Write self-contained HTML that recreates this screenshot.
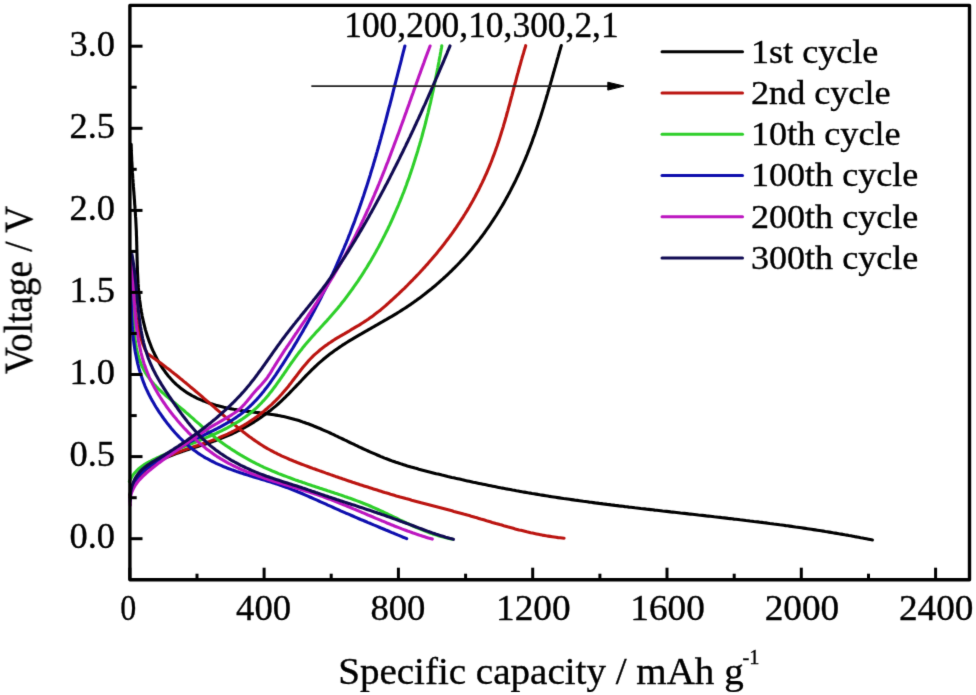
<!DOCTYPE html>
<html><head><meta charset="utf-8"><style>
html,body{margin:0;padding:0;background:#fff;}
svg{display:block;} text{font-variant-ligatures:none;}
</style></head><body>
<svg width="976" height="695" viewBox="0 0 976 695">
<defs><filter id="b" filterUnits="userSpaceOnUse" x="0" y="0" width="976" height="695" color-interpolation-filters="sRGB"><feConvolveMatrix order="3" kernelMatrix="0.01134 0.08382 0.01134 0.08382 0.61935 0.08382 0.01134 0.08382 0.01134" divisor="1" edgeMode="duplicate"/></filter></defs>
<rect width="976" height="695" fill="#fff"/>
<g filter="url(#b)">
<polyline points="131.2,144.4 131.2,146.4 131.3,148.4 131.3,150.4 131.4,152.4 131.5,154.4 131.6,156.4 131.7,158.4 131.7,160.4 131.9,162.4 132.0,164.4 132.1,166.4 132.2,168.4 132.3,170.4 132.4,172.4 132.6,174.4 132.7,176.4 132.8,178.4 133.0,180.4 133.1,182.4 133.3,184.4 133.4,186.4 133.6,188.3 133.7,190.3 133.9,192.3 134.0,194.3 134.2,196.3 134.3,198.3 134.5,200.3 134.6,202.3 134.7,204.3 134.9,206.2 135.0,208.2 135.2,210.2 135.3,212.2 135.4,214.2 135.5,216.2 135.7,218.2 135.8,220.2 135.9,222.1 136.0,224.1 136.1,226.1 136.2,228.1 136.3,230.1 136.4,232.1 136.4,234.1 136.5,236.1 136.6,238.1 136.6,240.1 136.7,242.1 136.7,244.0 136.8,246.0 136.8,248.0 136.9,250.0 136.9,252.0 137.0,254.0 137.0,256.0 137.1,258.0 137.1,260.0 137.2,262.0 137.2,264.0 137.3,266.0 137.4,268.0 137.4,270.0 137.5,272.0 137.6,273.9 137.7,275.9 137.8,277.9 137.9,279.9 138.0,281.9 138.1,283.9 138.3,285.9 138.4,287.9 138.6,289.9 138.8,291.9 139.0,293.9 139.2,295.9 139.4,297.9 139.6,299.9 139.9,301.8 140.2,303.8 140.4,305.8 140.7,307.8 141.1,309.8 141.4,311.8 141.8,313.8 142.1,315.8 142.5,317.7 143.0,319.7 143.4,321.7 143.9,323.7 144.4,325.7 144.9,327.6 145.4,329.6 146.0,331.6 146.6,333.5 147.2,335.5 147.8,337.4 148.5,339.3 149.1,341.2 149.9,343.1 150.6,345.0 151.3,346.9 152.1,348.8 152.9,350.6 153.8,352.4 154.6,354.2 155.5,356.0 156.4,357.8 157.3,359.6 158.3,361.3 159.3,363.0 160.3,364.7 161.4,366.4 162.4,368.0 163.6,369.6 164.7,371.2 165.8,372.8 167.0,374.3 168.3,375.9 169.5,377.3 170.8,378.8 172.1,380.2 173.4,381.6 174.8,383.0 176.2,384.3 177.7,385.6 179.1,386.8 180.6,388.1 182.2,389.2 183.7,390.4 185.3,391.5 186.9,392.6 188.6,393.6 190.3,394.6 192.0,395.6 193.7,396.5 195.5,397.4 197.2,398.3 199.0,399.1 200.9,399.9 202.7,400.7 204.6,401.4 206.4,402.1 208.3,402.8 210.2,403.5 212.2,404.1 214.1,404.7 216.0,405.3 218.0,405.8 220.0,406.3 221.9,406.8 223.9,407.3 225.9,407.7 227.9,408.2 229.9,408.6 231.9,408.9 233.9,409.3 235.9,409.6 237.9,410.0 240.0,410.3 242.0,410.6 244.0,410.8 246.0,411.1 248.0,411.4 250.0,411.6 252.0,411.9 254.0,412.1 256.0,412.4 258.0,412.6 260.0,412.9 262.0,413.1 264.0,413.4 266.0,413.6 268.0,413.9 270.0,414.2 271.9,414.5 273.9,414.8 275.9,415.1 277.8,415.4 279.8,415.8 281.7,416.2 283.6,416.6 285.6,417.0 287.5,417.4 289.4,417.9 291.3,418.4 293.2,418.9 295.1,419.5 297.0,420.0 298.9,420.6 300.7,421.2 302.6,421.9 304.5,422.5 306.3,423.2 308.2,423.8 310.0,424.5 311.9,425.2 313.7,426.0 315.5,426.7 317.4,427.5 319.2,428.2 321.0,429.0 322.8,429.8 324.6,430.6 326.5,431.4 328.3,432.2 330.1,433.0 331.9,433.9 333.7,434.7 335.5,435.6 337.3,436.4 339.1,437.3 340.9,438.1 342.7,439.0 344.5,439.9 346.3,440.7 348.1,441.6 349.9,442.5 351.7,443.3 353.6,444.2 355.4,445.1 357.2,445.9 359.0,446.8 360.8,447.6 362.6,448.5 364.4,449.3 366.3,450.2 368.1,451.0 369.9,451.8 371.7,452.6 373.6,453.4 375.4,454.2 377.2,455.0 379.1,455.8 380.9,456.6 382.8,457.3 384.6,458.1 386.5,458.8 388.4,459.5 390.2,460.2 392.1,460.9 394.0,461.5 395.9,462.2 397.8,462.8 399.7,463.4 401.6,464.1 403.5,464.7 405.4,465.3 407.3,465.9 409.2,466.4 411.1,467.0 413.0,467.5 414.9,468.1 416.9,468.6 418.8,469.2 420.7,469.7 422.6,470.2 424.6,470.7 426.5,471.2 428.4,471.7 430.4,472.2 432.3,472.7 434.2,473.2 436.2,473.7 438.1,474.1 440.1,474.6 442.0,475.1 444.0,475.5 445.9,476.0 447.8,476.5 449.8,476.9 451.7,477.4 453.7,477.8 455.6,478.3 457.6,478.7 459.5,479.1 461.5,479.6 463.4,480.0 465.4,480.5 467.3,480.9 469.3,481.3 471.2,481.7 473.2,482.2 475.1,482.6 477.1,483.0 479.0,483.4 481.0,483.8 482.9,484.2 484.9,484.6 486.9,485.0 488.8,485.4 490.8,485.8 492.7,486.2 494.7,486.6 496.7,487.0 498.6,487.4 500.6,487.8 502.5,488.1 504.5,488.5 506.5,488.9 508.4,489.2 510.4,489.6 512.4,490.0 514.3,490.3 516.3,490.7 518.2,491.0 520.2,491.4 522.2,491.8 524.1,492.1 526.1,492.4 528.1,492.8 530.1,493.1 532.0,493.5 534.0,493.8 536.0,494.1 537.9,494.4 539.9,494.8 541.9,495.1 543.8,495.4 545.8,495.7 547.8,496.0 549.8,496.4 551.7,496.7 553.7,497.0 555.7,497.3 557.7,497.6 559.6,497.9 561.6,498.2 563.6,498.5 565.6,498.7 567.5,499.0 569.5,499.3 571.5,499.6 573.5,499.9 575.4,500.2 577.4,500.4 579.4,500.7 581.4,501.0 583.3,501.3 585.3,501.5 587.3,501.8 589.3,502.1 591.3,502.3 593.2,502.6 595.2,502.9 597.2,503.1 599.2,503.4 601.2,503.6 603.1,503.9 605.1,504.1 607.1,504.4 609.1,504.6 611.1,504.9 613.0,505.1 615.0,505.4 617.0,505.6 619.0,505.9 621.0,506.1 623.0,506.3 624.9,506.6 626.9,506.8 628.9,507.1 630.9,507.3 632.9,507.5 634.9,507.8 636.8,508.0 638.8,508.2 640.8,508.5 642.8,508.7 644.8,508.9 646.8,509.2 648.8,509.4 650.7,509.6 652.7,509.8 654.7,510.1 656.7,510.3 658.7,510.5 660.7,510.7 662.6,511.0 664.6,511.2 666.6,511.4 668.6,511.6 670.6,511.9 672.6,512.1 674.6,512.3 676.5,512.5 678.5,512.7 680.5,513.0 682.5,513.2 684.5,513.4 686.5,513.6 688.5,513.9 690.5,514.1 692.4,514.3 694.4,514.5 696.4,514.7 698.4,515.0 700.4,515.2 702.4,515.4 704.4,515.6 706.3,515.9 708.3,516.1 710.3,516.3 712.3,516.5 714.3,516.8 716.3,517.0 718.2,517.2 720.2,517.4 722.2,517.7 724.2,517.9 726.2,518.1 728.2,518.4 730.2,518.6 732.1,518.8 734.1,519.1 736.1,519.3 738.1,519.5 740.1,519.8 742.1,520.0 744.0,520.2 746.0,520.5 748.0,520.7 750.0,521.0 752.0,521.2 754.0,521.5 755.9,521.7 757.9,521.9 759.9,522.2 761.9,522.4 763.9,522.7 765.9,522.9 767.8,523.2 769.8,523.5 771.8,523.7 773.8,524.0 775.8,524.2 777.7,524.5 779.7,524.8 781.7,525.0 783.7,525.3 785.7,525.6 787.6,525.8 789.6,526.1 791.6,526.4 793.6,526.7 795.6,527.0 797.5,527.2 799.5,527.5 801.5,527.8 803.5,528.1 805.4,528.4 807.4,528.7 809.4,529.0 811.4,529.3 813.3,529.6 815.3,529.9 817.3,530.2 819.3,530.5 821.2,530.8 823.2,531.1 825.2,531.5 827.2,531.8 829.1,532.1 831.1,532.4 833.1,532.8 835.0,533.1 837.0,533.4 839.0,533.8 841.0,534.1 842.9,534.4 844.9,534.8 846.9,535.1 848.8,535.5 850.8,535.8 852.8,536.2 854.7,536.6 856.7,536.9 858.7,537.3 860.6,537.7 862.6,538.0 864.6,538.4 866.5,538.8 868.5,539.2 870.4,539.6 872.4,540.0" fill="none" stroke="#000000" stroke-width="3.1" stroke-linejoin="round" stroke-linecap="round"/>
<polyline points="129.8,494.9 130.3,492.9 130.8,490.8 131.4,488.9 132.2,487.0 133.0,485.2 133.8,483.4 134.8,481.7 135.9,480.1 137.0,478.5 138.2,477.0 139.4,475.5 140.7,474.1 142.1,472.7 143.5,471.4 145.0,470.1 146.5,468.9 148.1,467.7 149.7,466.6 151.4,465.5 153.1,464.4 154.8,463.4 156.5,462.4 158.3,461.4 160.1,460.5 161.9,459.6 163.8,458.8 165.6,457.9 167.5,457.1 169.3,456.3 171.2,455.6 173.1,454.8 175.0,454.1 176.8,453.4 178.7,452.7 180.6,452.0 182.5,451.4 184.5,450.7 186.4,450.1 188.3,449.5 190.2,448.8 192.1,448.2 194.0,447.6 195.9,447.0 197.9,446.4 199.8,445.8 201.7,445.2 203.6,444.5 205.5,443.9 207.4,443.3 209.3,442.7 211.2,442.0 213.1,441.4 215.0,440.7 216.8,440.0 218.7,439.3 220.6,438.6 222.4,437.9 224.3,437.1 226.1,436.4 227.9,435.6 229.8,434.8 231.6,434.0 233.4,433.1 235.2,432.3 237.0,431.4 238.7,430.5 240.5,429.6 242.3,428.7 244.0,427.8 245.7,426.8 247.5,425.8 249.2,424.8 250.9,423.8 252.6,422.8 254.3,421.8 255.9,420.7 257.6,419.6 259.3,418.5 260.9,417.4 262.5,416.3 264.1,415.1 265.7,414.0 267.3,412.8 268.9,411.6 270.5,410.4 272.0,409.1 273.5,407.9 275.1,406.6 276.6,405.3 278.1,404.0 279.6,402.6 281.0,401.3 282.5,399.9 283.9,398.5 285.4,397.1 286.8,395.7 288.2,394.3 289.6,392.9 291.0,391.4 292.4,390.0 293.8,388.5 295.2,387.1 296.6,385.6 298.0,384.2 299.4,382.7 300.8,381.3 302.2,379.8 303.5,378.3 304.9,376.9 306.3,375.4 307.7,374.0 309.1,372.6 310.6,371.1 312.0,369.7 313.4,368.3 314.8,367.0 316.3,365.6 317.8,364.2 319.2,362.9 320.7,361.6 322.2,360.3 323.7,359.0 325.3,357.7 326.8,356.5 328.4,355.2 329.9,354.0 331.5,352.9 333.1,351.7 334.7,350.5 336.4,349.4 338.0,348.2 339.6,347.1 341.3,346.0 342.9,344.9 344.6,343.9 346.3,342.8 348.0,341.7 349.7,340.7 351.4,339.7 353.1,338.6 354.8,337.6 356.5,336.6 358.2,335.6 359.9,334.6 361.7,333.6 363.4,332.6 365.1,331.6 366.9,330.6 368.6,329.6 370.4,328.6 372.1,327.6 373.9,326.7 375.6,325.7 377.4,324.7 379.1,323.7 380.8,322.7 382.6,321.7 384.3,320.7 386.1,319.7 387.8,318.7 389.5,317.7 391.3,316.7 393.0,315.6 394.7,314.6 396.4,313.6 398.1,312.5 399.8,311.5 401.5,310.4 403.2,309.3 404.9,308.2 406.6,307.1 408.2,306.0 409.9,304.9 411.5,303.7 413.2,302.6 414.8,301.4 416.5,300.3 418.1,299.1 419.7,297.9 421.3,296.7 422.9,295.5 424.5,294.3 426.1,293.0 427.6,291.8 429.2,290.5 430.8,289.3 432.3,288.0 433.9,286.7 435.4,285.5 436.9,284.2 438.4,282.8 439.9,281.5 441.4,280.2 442.9,278.9 444.4,277.5 445.9,276.2 447.3,274.8 448.8,273.4 450.2,272.0 451.7,270.6 453.1,269.2 454.5,267.8 455.9,266.4 457.3,265.0 458.7,263.5 460.1,262.1 461.4,260.6 462.8,259.2 464.1,257.7 465.5,256.2 466.8,254.7 468.1,253.2 469.4,251.7 470.7,250.2 472.0,248.7 473.3,247.1 474.5,245.6 475.8,244.1 477.0,242.5 478.3,240.9 479.5,239.4 480.7,237.8 481.9,236.2 483.1,234.6 484.3,233.0 485.4,231.4 486.6,229.7 487.7,228.1 488.9,226.5 490.0,224.8 491.1,223.2 492.2,221.5 493.3,219.9 494.4,218.2 495.5,216.5 496.6,214.8 497.6,213.1 498.7,211.4 499.7,209.7 500.7,208.0 501.8,206.3 502.8,204.6 503.8,202.9 504.8,201.1 505.7,199.4 506.7,197.6 507.7,195.9 508.6,194.1 509.6,192.4 510.5,190.6 511.4,188.8 512.3,187.1 513.2,185.3 514.1,183.5 515.0,181.7 515.9,179.9 516.7,178.1 517.6,176.3 518.4,174.5 519.3,172.7 520.1,170.8 520.9,169.0 521.7,167.2 522.5,165.4 523.3,163.5 524.1,161.7 524.9,159.8 525.7,158.0 526.4,156.1 527.2,154.3 527.9,152.4 528.6,150.6 529.4,148.7 530.1,146.8 530.8,145.0 531.5,143.1 532.2,141.2 532.8,139.3 533.5,137.4 534.2,135.6 534.9,133.7 535.5,131.8 536.2,129.9 536.8,128.0 537.5,126.1 538.1,124.2 538.7,122.3 539.3,120.4 540.0,118.5 540.6,116.6 541.2,114.7 541.8,112.8 542.4,110.9 543.0,108.9 543.6,107.0 544.1,105.1 544.7,103.2 545.3,101.3 545.9,99.4 546.4,97.5 547.0,95.5 547.6,93.6 548.1,91.7 548.7,89.8 549.3,87.8 549.8,85.9 550.4,84.0 550.9,82.1 551.5,80.2 552.0,78.2 552.6,76.3 553.1,74.4 553.6,72.5 554.2,70.5 554.7,68.6 555.3,66.7 555.8,64.8 556.4,62.9 556.9,60.9 557.4,59.0 558.0,57.1 558.5,55.2 559.1,53.3 559.6,51.4 560.2,49.4 560.7,47.5 561.3,45.6" fill="none" stroke="#000000" stroke-width="3.1" stroke-linejoin="round" stroke-linecap="round"/>
<polyline points="130.9,262.0 131.1,263.9 131.3,265.8 131.5,267.7 131.7,269.7 131.9,271.6 132.1,273.5 132.2,275.5 132.4,277.4 132.6,279.4 132.7,281.4 132.9,283.3 133.0,285.3 133.2,287.3 133.3,289.2 133.5,291.2 133.6,293.2 133.8,295.2 133.9,297.2 134.1,299.2 134.3,301.2 134.5,303.1 134.7,305.1 134.9,307.1 135.1,309.1 135.4,311.0 135.6,313.0 135.9,315.0 136.2,316.9 136.5,318.9 136.8,320.8 137.2,322.8 137.5,324.7 137.9,326.6 138.3,328.5 138.8,330.4 139.2,332.3 139.7,334.2 140.2,336.0 140.8,337.9 141.4,339.7 142.0,341.6 142.7,343.4 143.3,345.2 144.1,346.9 144.8,348.7 145.7,350.4 146.5,352.1 147.4,353.8 149.3,354.9 150.9,356.1 152.5,357.2 154.2,358.4 155.8,359.6 157.4,360.7 159.0,361.9 160.6,363.1 162.2,364.3 163.8,365.5 165.4,366.7 166.9,367.9 168.5,369.1 170.1,370.3 171.7,371.6 173.2,372.8 174.8,374.1 176.4,375.3 177.9,376.5 179.5,377.8 181.0,379.1 182.6,380.3 184.1,381.6 185.6,382.8 187.2,384.1 188.7,385.4 190.2,386.7 191.8,388.0 193.3,389.2 194.8,390.5 196.3,391.8 197.9,393.1 199.4,394.4 200.9,395.7 202.4,397.0 203.9,398.3 205.4,399.6 206.9,400.9 208.4,402.2 209.9,403.5 211.5,404.8 213.0,406.1 214.5,407.4 216.0,408.8 217.5,410.1 219.0,411.4 220.5,412.7 222.0,414.0 223.5,415.3 225.0,416.6 226.5,417.9 228.0,419.2 229.5,420.5 231.0,421.8 232.5,423.1 234.0,424.3 235.6,425.6 237.1,426.9 238.6,428.1 240.1,429.4 241.7,430.6 243.2,431.9 244.8,433.1 246.3,434.3 247.9,435.5 249.5,436.7 251.1,437.8 252.7,439.0 254.3,440.1 255.9,441.2 257.5,442.3 259.1,443.4 260.8,444.5 262.4,445.5 264.1,446.6 265.8,447.6 267.5,448.6 269.2,449.5 270.9,450.5 272.7,451.4 274.4,452.3 276.2,453.2 277.9,454.1 279.7,454.9 281.5,455.8 283.3,456.6 285.1,457.4 286.9,458.2 288.7,459.0 290.5,459.8 292.4,460.5 294.2,461.3 296.1,462.0 297.9,462.8 299.8,463.5 301.6,464.2 303.5,464.9 305.4,465.6 307.2,466.3 309.1,467.0 311.0,467.7 312.9,468.4 314.8,469.0 316.6,469.7 318.5,470.4 320.4,471.1 322.3,471.7 324.2,472.4 326.1,473.1 327.9,473.7 329.8,474.4 331.7,475.1 333.6,475.7 335.5,476.4 337.4,477.0 339.3,477.7 341.1,478.3 343.0,479.0 344.9,479.6 346.8,480.3 348.7,480.9 350.6,481.5 352.5,482.2 354.4,482.8 356.3,483.4 358.2,484.0 360.1,484.7 362.0,485.3 363.9,485.9 365.8,486.5 367.7,487.1 369.6,487.7 371.5,488.3 373.4,488.9 375.3,489.5 377.2,490.1 379.1,490.7 381.0,491.3 382.9,491.9 384.8,492.5 386.7,493.0 388.6,493.6 390.5,494.2 392.4,494.7 394.3,495.3 396.2,495.9 398.2,496.4 400.1,497.0 402.0,497.5 403.9,498.0 405.8,498.6 407.7,499.1 409.7,499.6 411.6,500.2 413.5,500.7 415.4,501.2 417.3,501.7 419.3,502.2 421.2,502.8 423.1,503.3 425.0,503.8 427.0,504.3 428.9,504.8 430.8,505.3 432.7,505.8 434.7,506.3 436.6,506.8 438.5,507.3 440.4,507.8 442.4,508.3 444.3,508.8 446.2,509.3 448.1,509.8 450.1,510.3 452.0,510.8 453.9,511.4 455.8,511.9 457.7,512.4 459.7,512.9 461.6,513.4 463.5,514.0 465.4,514.5 467.3,515.1 469.3,515.6 471.2,516.2 473.1,516.7 475.0,517.3 476.9,517.8 478.8,518.4 480.7,519.0 482.6,519.5 484.5,520.1 486.5,520.7 488.4,521.2 490.3,521.8 492.2,522.4 494.1,522.9 496.0,523.5 497.9,524.0 499.8,524.6 501.8,525.1 503.7,525.7 505.6,526.2 507.5,526.8 509.4,527.3 511.3,527.8 513.3,528.3 515.2,528.9 517.1,529.4 519.0,529.9 521.0,530.3 522.9,530.8 524.8,531.3 526.8,531.8 528.7,532.2 530.6,532.7 532.6,533.1 534.5,533.5 536.5,533.9 538.4,534.3 540.4,534.7 542.3,535.1 544.3,535.4 546.3,535.8 548.2,536.1 550.2,536.4 552.2,536.7 554.2,537.0 556.1,537.3 558.1,537.6 560.1,537.8 562.1,538.0 564.1,538.2" fill="none" stroke="#bb1410" stroke-width="3.1" stroke-linejoin="round" stroke-linecap="round"/>
<polyline points="129.9,497.0 130.3,494.9 130.7,492.8 131.2,490.8 131.8,488.9 132.6,487.0 133.3,485.2 134.2,483.5 135.2,481.8 136.2,480.1 137.3,478.5 138.5,477.0 139.7,475.5 141.0,474.0 142.3,472.6 143.7,471.3 145.2,470.0 146.7,468.7 148.3,467.5 149.9,466.3 151.5,465.2 153.2,464.1 154.9,463.0 156.6,462.0 158.4,461.0 160.2,460.1 162.0,459.1 163.8,458.2 165.6,457.4 167.5,456.5 169.3,455.7 171.2,454.9 173.0,454.2 174.9,453.4 176.8,452.7 178.7,452.0 180.5,451.3 182.4,450.6 184.3,449.9 186.2,449.3 188.1,448.6 190.0,448.0 191.9,447.4 193.8,446.7 195.8,446.1 197.7,445.5 199.6,444.8 201.5,444.2 203.4,443.6 205.2,442.9 207.1,442.3 209.0,441.6 210.9,440.9 212.8,440.2 214.6,439.5 216.5,438.8 218.3,438.1 220.2,437.3 222.0,436.5 223.8,435.7 225.7,434.9 227.5,434.1 229.3,433.2 231.0,432.4 232.8,431.5 234.6,430.5 236.3,429.6 238.1,428.7 239.8,427.7 241.5,426.7 243.2,425.7 244.9,424.6 246.6,423.6 248.3,422.5 250.0,421.4 251.6,420.3 253.2,419.2 254.9,418.1 256.5,416.9 258.1,415.7 259.7,414.5 261.2,413.3 262.8,412.1 264.3,410.8 265.8,409.5 267.4,408.2 268.8,406.9 270.3,405.6 271.8,404.3 273.2,402.9 274.7,401.5 276.1,400.1 277.5,398.7 278.9,397.2 280.2,395.8 281.6,394.3 282.9,392.8 284.2,391.3 285.5,389.8 286.8,388.2 288.1,386.7 289.3,385.1 290.6,383.5 291.8,381.9 293.0,380.3 294.2,378.7 295.5,377.1 296.7,375.5 297.9,373.9 299.1,372.3 300.3,370.7 301.6,369.1 302.8,367.5 304.1,366.0 305.4,364.5 306.7,362.9 308.0,361.4 309.3,360.0 310.7,358.5 312.1,357.1 313.5,355.7 314.9,354.4 316.4,353.1 317.9,351.8 319.4,350.5 320.9,349.2 322.5,348.0 324.1,346.8 325.7,345.6 327.3,344.5 328.9,343.3 330.6,342.2 332.2,341.1 333.9,340.0 335.6,338.9 337.3,337.9 339.1,336.9 340.8,335.8 342.5,334.8 344.3,333.8 346.0,332.8 347.7,331.8 349.5,330.8 351.2,329.7 353.0,328.7 354.7,327.7 356.4,326.7 358.2,325.7 359.9,324.6 361.6,323.5 363.2,322.5 364.9,321.4 366.6,320.3 368.2,319.2 369.8,318.0 371.5,316.9 373.1,315.7 374.6,314.5 376.2,313.3 377.8,312.1 379.3,310.9 380.9,309.7 382.4,308.4 383.9,307.1 385.4,305.8 386.9,304.5 388.4,303.2 389.8,301.9 391.3,300.5 392.8,299.2 394.2,297.9 395.7,296.5 397.1,295.1 398.6,293.8 400.0,292.4 401.5,291.0 402.9,289.6 404.4,288.3 405.8,286.9 407.2,285.5 408.6,284.0 410.0,282.6 411.4,281.2 412.8,279.8 414.2,278.3 415.6,276.9 417.0,275.4 418.4,274.0 419.8,272.5 421.1,271.0 422.5,269.6 423.8,268.1 425.2,266.6 426.5,265.1 427.9,263.6 429.2,262.1 430.5,260.6 431.8,259.1 433.1,257.5 434.4,256.0 435.7,254.5 437.0,252.9 438.2,251.4 439.5,249.8 440.8,248.2 442.0,246.7 443.3,245.1 444.5,243.5 445.7,241.9 446.9,240.3 448.1,238.7 449.3,237.1 450.5,235.5 451.7,233.9 452.8,232.3 454.0,230.6 455.1,229.0 456.3,227.4 457.4,225.7 458.5,224.0 459.6,222.4 460.7,220.7 461.8,219.0 462.9,217.4 463.9,215.7 465.0,214.0 466.0,212.3 467.1,210.6 468.1,208.9 469.1,207.2 470.1,205.4 471.1,203.7 472.1,202.0 473.1,200.3 474.0,198.5 475.0,196.8 475.9,195.0 476.8,193.2 477.8,191.5 478.7,189.7 479.6,187.9 480.4,186.2 481.3,184.4 482.2,182.6 483.0,180.8 483.9,179.0 484.7,177.2 485.5,175.4 486.4,173.5 487.2,171.7 487.9,169.9 488.7,168.1 489.5,166.2 490.2,164.4 491.0,162.5 491.7,160.7 492.4,158.8 493.1,156.9 493.8,155.1 494.5,153.2 495.2,151.3 495.9,149.4 496.5,147.5 497.2,145.7 497.8,143.8 498.5,141.9 499.1,140.0 499.7,138.1 500.3,136.1 500.9,134.2 501.5,132.3 502.1,130.4 502.7,128.5 503.3,126.6 503.8,124.6 504.4,122.7 505.0,120.8 505.5,118.8 506.1,116.9 506.6,115.0 507.1,113.0 507.7,111.1 508.2,109.2 508.7,107.2 509.3,105.3 509.8,103.4 510.3,101.4 510.8,99.5 511.3,97.5 511.9,95.6 512.4,93.7 512.9,91.7 513.4,89.8 513.9,87.8 514.4,85.9 514.9,84.0 515.5,82.0 516.0,80.1 516.5,78.2 517.0,76.2 517.5,74.3 518.1,72.4 518.6,70.4 519.1,68.5 519.6,66.6 520.2,64.7 520.7,62.8 521.2,60.9 521.8,58.9 522.3,57.0 522.9,55.1 523.5,53.2 524.0,51.3 524.6,49.4 525.2,47.6 525.7,45.7" fill="none" stroke="#bb1410" stroke-width="3.1" stroke-linejoin="round" stroke-linecap="round"/>
<polyline points="130.5,262.1 130.7,264.0 130.9,266.0 131.0,267.9 131.2,269.9 131.3,271.9 131.5,273.8 131.6,275.8 131.7,277.8 131.8,279.8 131.9,281.8 132.0,283.7 132.1,285.7 132.2,287.7 132.3,289.7 132.4,291.7 132.4,293.7 132.5,295.7 132.6,297.7 132.7,299.7 132.8,301.7 132.8,303.7 132.9,305.7 133.0,307.7 133.1,309.7 133.2,311.8 133.3,313.8 133.3,315.8 133.4,317.8 133.6,319.9 133.7,321.9 133.8,323.9 133.9,325.9 134.0,328.0 134.2,330.0 134.3,332.0 134.5,334.1 134.7,336.1 134.9,338.1 135.2,340.1 135.4,342.1 135.7,344.1 136.1,346.1 136.4,348.1 136.8,350.1 137.2,352.0 137.7,353.9 138.2,355.8 138.8,357.7 139.4,359.6 140.1,361.4 140.8,363.3 141.5,365.0 142.3,366.8 143.2,368.6 144.1,370.3 145.0,372.0 146.0,373.6 147.1,375.3 148.2,376.9 149.3,378.4 150.5,380.0 151.7,381.5 153.0,383.0 154.3,384.5 155.7,385.9 157.0,387.4 158.4,388.8 159.9,390.1 161.3,391.5 162.8,392.9 164.3,394.2 165.8,395.5 167.3,396.8 168.9,398.1 170.4,399.4 172.0,400.7 173.5,402.0 175.1,403.3 176.7,404.6 178.2,405.9 179.8,407.2 181.3,408.4 182.9,409.7 184.4,411.0 185.9,412.4 187.5,413.7 189.0,415.0 190.5,416.3 192.0,417.6 193.5,418.9 194.9,420.3 196.4,421.6 197.9,422.9 199.4,424.2 200.9,425.5 202.4,426.8 203.9,428.1 205.4,429.4 206.9,430.7 208.4,432.0 209.9,433.3 211.5,434.5 213.0,435.8 214.6,437.0 216.1,438.3 217.7,439.5 219.3,440.7 220.9,441.9 222.5,443.1 224.1,444.2 225.8,445.4 227.4,446.5 229.1,447.6 230.7,448.8 232.4,449.9 234.1,450.9 235.8,452.0 237.5,453.1 239.2,454.1 240.9,455.2 242.6,456.2 244.3,457.2 246.1,458.2 247.8,459.1 249.6,460.1 251.4,461.1 253.1,462.0 254.9,462.9 256.7,463.8 258.5,464.7 260.3,465.6 262.1,466.4 263.9,467.3 265.7,468.1 267.5,468.9 269.3,469.7 271.2,470.5 273.0,471.3 274.8,472.0 276.7,472.8 278.5,473.6 280.4,474.3 282.2,475.0 284.1,475.7 286.0,476.4 287.8,477.1 289.7,477.8 291.6,478.5 293.4,479.2 295.3,479.9 297.2,480.5 299.1,481.2 301.0,481.8 302.9,482.5 304.8,483.1 306.6,483.8 308.5,484.4 310.4,485.0 312.3,485.7 314.2,486.3 316.1,486.9 318.0,487.5 319.9,488.2 321.8,488.8 323.7,489.4 325.6,490.0 327.5,490.7 329.4,491.3 331.3,491.9 333.2,492.5 335.1,493.2 337.0,493.8 338.9,494.4 340.8,495.1 342.7,495.7 344.5,496.4 346.4,497.0 348.3,497.7 350.2,498.3 352.1,499.0 353.9,499.7 355.8,500.4 357.7,501.1 359.5,501.8 361.4,502.5 363.3,503.3 365.1,504.0 367.0,504.7 368.8,505.5 370.7,506.3 372.5,507.1 374.3,507.9 376.1,508.7 378.0,509.5 379.8,510.3 381.6,511.1 383.4,512.0 385.2,512.8 387.0,513.7 388.9,514.6 390.7,515.4 392.5,516.3 394.3,517.2 396.1,518.0 397.9,518.9 399.7,519.8 401.5,520.6 403.3,521.5 405.1,522.3 406.9,523.2 408.7,524.0 410.5,524.9 412.4,525.7 414.2,526.5 416.0,527.3 417.8,528.1 419.7,528.9 421.5,529.6 423.4,530.4 425.2,531.1 427.1,531.8 428.9,532.5 430.8,533.2 432.7,533.9 434.6,534.5 436.5,535.1 438.4,535.7 440.3,536.3 442.2,536.8 444.1,537.3 446.1,537.8 448.0,538.3 450.0,538.7 452.0,539.1" fill="none" stroke="#2ecf2a" stroke-width="3.1" stroke-linejoin="round" stroke-linecap="round"/>
<polyline points="129.4,481.5 130.2,479.7 131.2,477.9 132.2,476.2 133.3,474.6 134.5,473.1 135.8,471.7 137.1,470.3 138.5,469.0 140.0,467.8 141.5,466.6 143.1,465.5 144.7,464.4 146.4,463.4 148.1,462.4 149.9,461.5 151.6,460.6 153.4,459.7 155.2,458.8 157.0,458.0 158.8,457.2 160.6,456.3 162.5,455.5 164.3,454.7 166.1,454.0 168.0,453.2 169.8,452.4 171.7,451.6 173.5,450.9 175.3,450.1 177.2,449.4 179.1,448.6 180.9,447.9 182.8,447.2 184.6,446.4 186.5,445.7 188.3,445.0 190.2,444.2 192.1,443.5 193.9,442.8 195.8,442.0 197.6,441.3 199.5,440.5 201.3,439.7 203.2,439.0 205.0,438.2 206.9,437.4 208.7,436.6 210.6,435.8 212.4,435.0 214.3,434.2 216.1,433.4 217.9,432.5 219.7,431.7 221.5,430.8 223.3,429.9 225.1,429.0 226.9,428.1 228.6,427.1 230.4,426.2 232.1,425.2 233.9,424.2 235.6,423.2 237.3,422.2 239.0,421.1 240.6,420.1 242.3,419.0 243.9,417.9 245.5,416.7 247.1,415.6 248.7,414.4 250.2,413.2 251.7,412.0 253.2,410.7 254.7,409.4 256.2,408.1 257.6,406.8 259.0,405.4 260.4,404.0 261.8,402.6 263.1,401.1 264.4,399.7 265.7,398.2 267.0,396.7 268.3,395.2 269.5,393.6 270.8,392.1 272.0,390.5 273.2,388.9 274.4,387.3 275.6,385.7 276.7,384.1 277.9,382.4 279.1,380.8 280.2,379.1 281.4,377.5 282.5,375.8 283.7,374.2 284.8,372.5 286.0,370.8 287.1,369.2 288.2,367.5 289.4,365.9 290.5,364.2 291.7,362.5 292.9,360.9 294.0,359.3 295.2,357.6 296.4,356.0 297.6,354.4 298.8,352.8 300.0,351.2 301.3,349.7 302.5,348.1 303.8,346.6 305.0,345.0 306.3,343.5 307.6,342.0 308.9,340.5 310.2,339.0 311.5,337.5 312.8,336.0 314.2,334.6 315.5,333.1 316.8,331.6 318.2,330.2 319.5,328.7 320.8,327.3 322.2,325.8 323.5,324.3 324.8,322.9 326.2,321.4 327.5,319.9 328.8,318.5 330.1,317.0 331.4,315.5 332.7,314.0 334.0,312.5 335.3,311.0 336.6,309.5 337.9,308.0 339.1,306.4 340.4,304.9 341.6,303.3 342.8,301.8 344.1,300.2 345.3,298.6 346.5,297.0 347.7,295.4 348.9,293.8 350.0,292.2 351.2,290.6 352.4,289.0 353.5,287.4 354.7,285.7 355.8,284.1 357.0,282.4 358.1,280.8 359.2,279.1 360.3,277.5 361.4,275.8 362.5,274.1 363.6,272.4 364.6,270.7 365.7,269.0 366.8,267.3 367.8,265.6 368.8,263.9 369.9,262.2 370.9,260.5 371.9,258.7 372.9,257.0 373.9,255.3 374.9,253.5 375.9,251.8 376.8,250.0 377.8,248.3 378.8,246.5 379.7,244.7 380.6,243.0 381.6,241.2 382.5,239.4 383.4,237.6 384.3,235.9 385.2,234.1 386.1,232.3 387.0,230.5 387.9,228.7 388.7,226.9 389.6,225.1 390.4,223.3 391.3,221.5 392.1,219.6 392.9,217.8 393.7,216.0 394.5,214.2 395.3,212.4 396.1,210.5 396.9,208.7 397.7,206.9 398.5,205.0 399.2,203.2 400.0,201.4 400.7,199.5 401.5,197.7 402.2,195.8 402.9,194.0 403.7,192.1 404.4,190.3 405.1,188.4 405.8,186.5 406.5,184.7 407.1,182.8 407.8,180.9 408.5,179.1 409.2,177.2 409.8,175.3 410.5,173.4 411.1,171.6 411.7,169.7 412.4,167.8 413.0,165.9 413.6,164.0 414.2,162.1 414.8,160.2 415.4,158.3 416.0,156.4 416.6,154.6 417.2,152.6 417.8,150.7 418.3,148.8 418.9,146.9 419.5,145.0 420.0,143.1 420.6,141.2 421.1,139.3 421.7,137.4 422.2,135.5 422.7,133.5 423.2,131.6 423.7,129.7 424.3,127.8 424.8,125.9 425.3,123.9 425.8,122.0 426.2,120.1 426.7,118.1 427.2,116.2 427.7,114.3 428.2,112.3 428.6,110.4 429.1,108.5 429.5,106.5 430.0,104.6 430.5,102.6 430.9,100.7 431.3,98.7 431.8,96.8 432.2,94.8 432.6,92.9 433.1,90.9 433.5,89.0 433.9,87.0 434.3,85.1 434.7,83.1 435.1,81.2 435.5,79.2 435.9,77.3 436.3,75.3 436.7,73.3 437.1,71.4 437.5,69.4 437.9,67.5 438.2,65.5 438.6,63.5 439.0,61.6 439.3,59.6 439.7,57.6 440.1,55.7 440.4,53.7 440.8,51.7 441.1,49.8 441.5,47.8 441.8,45.8" fill="none" stroke="#2ecf2a" stroke-width="3.1" stroke-linejoin="round" stroke-linecap="round"/>
<polyline points="130.5,252.1 130.5,254.0 130.6,256.0 130.6,257.9 130.7,259.8 130.7,261.8 130.8,263.8 130.8,265.7 130.8,267.7 130.9,269.7 130.9,271.7 130.9,273.6 130.9,275.6 130.9,277.6 131.0,279.6 131.0,281.6 131.0,283.6 131.0,285.6 131.0,287.6 131.0,289.6 131.0,291.6 131.1,293.6 131.1,295.7 131.1,297.7 131.2,299.7 131.2,301.7 131.2,303.7 131.3,305.7 131.3,307.7 131.4,309.8 131.5,311.8 131.5,313.8 131.6,315.8 131.7,317.8 131.8,319.8 131.9,321.8 132.1,323.8 132.2,325.9 132.4,327.9 132.5,329.9 132.7,331.9 132.9,333.9 133.1,335.8 133.3,337.8 133.5,339.8 133.8,341.8 134.0,343.8 134.3,345.8 134.6,347.7 134.9,349.7 135.2,351.6 135.6,353.6 136.0,355.5 136.4,357.5 136.8,359.4 137.2,361.3 137.6,363.3 138.1,365.2 138.6,367.1 139.1,369.0 139.7,370.9 140.2,372.8 140.8,374.7 141.5,376.5 142.1,378.4 142.8,380.3 143.5,382.1 144.2,383.9 144.9,385.8 145.7,387.6 146.5,389.4 147.4,391.2 148.2,393.0 149.1,394.8 150.0,396.5 150.9,398.3 151.9,400.1 152.9,401.8 153.9,403.5 154.9,405.3 155.9,407.0 157.0,408.7 158.1,410.4 159.2,412.1 160.3,413.7 161.5,415.4 162.6,417.0 163.8,418.7 165.0,420.3 166.2,421.9 167.4,423.5 168.7,425.0 169.9,426.6 171.2,428.2 172.5,429.7 173.8,431.2 175.1,432.7 176.5,434.2 177.8,435.6 179.2,437.1 180.6,438.5 182.0,439.9 183.4,441.3 184.9,442.6 186.3,443.9 187.8,445.2 189.3,446.5 190.8,447.8 192.4,449.0 194.0,450.2 195.6,451.3 197.2,452.5 198.8,453.6 200.5,454.7 202.1,455.7 203.8,456.8 205.5,457.8 207.2,458.7 209.0,459.7 210.7,460.6 212.5,461.5 214.3,462.4 216.1,463.3 217.9,464.1 219.7,464.9 221.5,465.7 223.3,466.5 225.2,467.2 227.0,468.0 228.9,468.7 230.8,469.4 232.6,470.1 234.5,470.7 236.4,471.4 238.3,472.0 240.2,472.7 242.1,473.3 244.0,473.9 245.9,474.5 247.8,475.1 249.7,475.7 251.6,476.3 253.6,476.9 255.5,477.4 257.4,478.0 259.3,478.6 261.2,479.2 263.1,479.8 265.1,480.3 267.0,480.9 268.9,481.5 270.8,482.1 272.7,482.7 274.6,483.3 276.5,483.9 278.4,484.6 280.3,485.2 282.1,485.9 284.0,486.5 285.9,487.2 287.8,487.9 289.6,488.6 291.5,489.3 293.3,490.1 295.1,490.8 297.0,491.5 298.8,492.3 300.6,493.0 302.5,493.8 304.3,494.6 306.1,495.4 307.9,496.2 309.7,497.0 311.6,497.8 313.4,498.6 315.2,499.4 317.0,500.2 318.8,501.0 320.6,501.8 322.4,502.6 324.2,503.4 326.0,504.2 327.8,505.1 329.7,505.9 331.5,506.7 333.3,507.5 335.1,508.3 336.9,509.1 338.7,509.9 340.6,510.8 342.4,511.6 344.2,512.4 346.0,513.2 347.9,513.9 349.7,514.7 351.5,515.5 353.4,516.3 355.2,517.1 357.0,517.9 358.9,518.7 360.7,519.5 362.6,520.2 364.4,521.0 366.3,521.8 368.1,522.6 369.9,523.3 371.8,524.1 373.6,524.9 375.5,525.6 377.3,526.4 379.2,527.2 381.0,528.0 382.8,528.7 384.7,529.5 386.5,530.3 388.4,531.0 390.2,531.8 392.0,532.6 393.9,533.3 395.7,534.1 397.6,534.9 399.4,535.6 401.2,536.4 403.1,537.2 404.9,537.9 406.7,538.7" fill="none" stroke="#0e0eae" stroke-width="3.1" stroke-linejoin="round" stroke-linecap="round"/>
<polyline points="130.3,501.2 130.3,499.0 130.4,496.8 130.5,494.7 130.9,492.6 131.3,490.6 131.8,488.7 132.5,486.8 133.2,484.9 134.0,483.2 135.0,481.4 136.0,479.8 137.1,478.2 138.2,476.6 139.5,475.1 140.8,473.7 142.2,472.3 143.6,470.9 145.1,469.6 146.7,468.4 148.2,467.1 149.9,466.0 151.5,464.8 153.2,463.7 154.8,462.5 156.5,461.4 158.2,460.4 159.9,459.3 161.6,458.2 163.3,457.2 165.0,456.1 166.7,455.1 168.4,454.1 170.1,453.0 171.8,452.0 173.5,451.0 175.2,450.1 176.9,449.1 178.6,448.1 180.4,447.2 182.1,446.2 183.8,445.3 185.6,444.3 187.3,443.4 189.1,442.5 190.9,441.5 192.6,440.6 194.4,439.7 196.2,438.8 198.0,437.9 199.9,437.1 201.7,436.2 203.5,435.3 205.3,434.4 207.2,433.5 209.0,432.6 210.8,431.7 212.6,430.8 214.4,429.9 216.3,429.0 218.1,428.0 219.9,427.1 221.7,426.1 223.4,425.2 225.2,424.2 226.9,423.2 228.7,422.2 230.4,421.1 232.1,420.1 233.8,419.0 235.5,417.9 237.1,416.8 238.7,415.6 240.3,414.5 241.9,413.3 243.4,412.0 244.9,410.8 246.4,409.5 247.9,408.2 249.3,406.9 250.8,405.5 252.2,404.1 253.6,402.7 254.9,401.3 256.3,399.9 257.6,398.4 258.9,397.0 260.2,395.5 261.5,393.9 262.7,392.4 264.0,390.9 265.2,389.3 266.4,387.8 267.6,386.2 268.8,384.6 270.0,383.0 271.1,381.4 272.3,379.7 273.4,378.1 274.6,376.4 275.7,374.8 276.8,373.1 277.9,371.5 279.0,369.8 280.1,368.1 281.2,366.4 282.3,364.8 283.4,363.1 284.5,361.4 285.6,359.7 286.6,358.0 287.7,356.3 288.8,354.6 289.8,352.9 290.9,351.2 291.9,349.5 293.0,347.8 294.0,346.1 295.0,344.4 296.1,342.7 297.1,340.9 298.1,339.2 299.1,337.5 300.1,335.8 301.2,334.0 302.2,332.3 303.2,330.6 304.1,328.8 305.1,327.1 306.1,325.4 307.1,323.6 308.1,321.9 309.0,320.1 310.0,318.4 311.0,316.6 311.9,314.9 312.9,313.1 313.8,311.4 314.8,309.6 315.7,307.8 316.6,306.1 317.6,304.3 318.5,302.5 319.4,300.8 320.3,299.0 321.2,297.2 322.1,295.4 323.0,293.6 323.9,291.8 324.8,290.1 325.7,288.3 326.6,286.5 327.4,284.7 328.3,282.9 329.2,281.1 330.0,279.3 330.9,277.5 331.7,275.7 332.6,273.9 333.4,272.1 334.2,270.3 335.1,268.4 335.9,266.6 336.7,264.8 337.5,263.0 338.3,261.2 339.1,259.3 339.9,257.5 340.7,255.7 341.5,253.8 342.3,252.0 343.1,250.2 343.9,248.3 344.6,246.5 345.4,244.6 346.2,242.8 346.9,241.0 347.7,239.1 348.4,237.3 349.1,235.4 349.9,233.6 350.6,231.7 351.3,229.8 352.0,228.0 352.7,226.1 353.5,224.2 354.2,222.4 354.9,220.5 355.5,218.6 356.2,216.8 356.9,214.9 357.6,213.0 358.3,211.1 358.9,209.2 359.6,207.4 360.2,205.5 360.9,203.6 361.5,201.7 362.2,199.8 362.8,197.9 363.5,196.0 364.1,194.1 364.7,192.2 365.3,190.3 366.0,188.4 366.6,186.5 367.2,184.6 367.8,182.7 368.4,180.8 369.0,178.9 369.6,177.0 370.2,175.1 370.7,173.2 371.3,171.3 371.9,169.4 372.5,167.5 373.1,165.5 373.6,163.6 374.2,161.7 374.8,159.8 375.3,157.9 375.9,156.0 376.4,154.0 377.0,152.1 377.5,150.2 378.1,148.3 378.6,146.3 379.2,144.4 379.7,142.5 380.2,140.6 380.8,138.6 381.3,136.7 381.8,134.8 382.4,132.8 382.9,130.9 383.4,129.0 383.9,127.1 384.4,125.1 385.0,123.2 385.5,121.3 386.0,119.3 386.5,117.4 387.0,115.5 387.5,113.5 388.0,111.6 388.5,109.7 389.0,107.7 389.6,105.8 390.1,103.9 390.6,101.9 391.1,100.0 391.6,98.1 392.1,96.1 392.6,94.2 393.0,92.3 393.5,90.3 394.0,88.4 394.5,86.5 395.0,84.5 395.5,82.6 396.0,80.7 396.5,78.7 397.0,76.8 397.5,74.9 398.0,72.9 398.5,71.0 399.0,69.1 399.5,67.1 400.0,65.2 400.5,63.3 401.0,61.4 401.5,59.4 401.9,57.5 402.4,55.6 402.9,53.7 403.4,51.7 403.9,49.8 404.4,47.9 404.9,46.0" fill="none" stroke="#0e0eae" stroke-width="3.1" stroke-linejoin="round" stroke-linecap="round"/>
<polyline points="130.6,255.0 130.8,257.0 131.0,258.9 131.2,260.9 131.4,262.8 131.6,264.8 131.8,266.7 132.0,268.7 132.1,270.7 132.3,272.7 132.4,274.6 132.6,276.6 132.7,278.6 132.8,280.6 133.0,282.6 133.1,284.6 133.2,286.6 133.4,288.6 133.5,290.6 133.6,292.6 133.7,294.7 133.9,296.7 134.0,298.7 134.1,300.7 134.3,302.7 134.4,304.7 134.6,306.7 134.7,308.7 134.9,310.8 135.1,312.8 135.2,314.8 135.4,316.8 135.6,318.8 135.8,320.8 136.0,322.8 136.2,324.8 136.5,326.8 136.7,328.8 137.0,330.8 137.3,332.7 137.6,334.7 137.9,336.7 138.2,338.7 138.5,340.6 138.9,342.6 139.3,344.5 139.7,346.5 140.1,348.4 140.5,350.4 140.9,352.3 141.4,354.2 141.9,356.1 142.4,358.0 143.0,359.9 143.5,361.8 144.1,363.7 144.8,365.5 145.4,367.4 146.1,369.3 146.8,371.1 147.5,372.9 148.3,374.8 149.0,376.6 149.8,378.4 150.7,380.2 151.6,381.9 152.4,383.7 153.4,385.5 154.3,387.2 155.3,389.0 156.3,390.7 157.3,392.4 158.3,394.1 159.4,395.8 160.4,397.5 161.5,399.2 162.6,400.9 163.7,402.5 164.9,404.2 166.0,405.8 167.2,407.5 168.4,409.1 169.6,410.7 170.8,412.3 172.1,413.9 173.3,415.5 174.6,417.1 175.9,418.6 177.2,420.2 178.5,421.7 179.8,423.2 181.1,424.7 182.5,426.2 183.8,427.7 185.2,429.2 186.6,430.6 187.9,432.1 189.4,433.5 190.8,434.9 192.2,436.3 193.6,437.7 195.1,439.1 196.6,440.4 198.1,441.8 199.5,443.1 201.1,444.4 202.6,445.7 204.1,446.9 205.6,448.2 207.2,449.4 208.8,450.6 210.4,451.8 212.0,452.9 213.6,454.1 215.2,455.2 216.8,456.3 218.5,457.3 220.1,458.4 221.8,459.4 223.5,460.4 225.2,461.4 226.9,462.4 228.6,463.3 230.4,464.2 232.1,465.1 233.9,466.0 235.7,466.8 237.4,467.7 239.2,468.5 241.0,469.3 242.8,470.1 244.7,470.8 246.5,471.6 248.3,472.3 250.2,473.0 252.0,473.8 253.9,474.5 255.7,475.1 257.6,475.8 259.5,476.5 261.4,477.1 263.3,477.8 265.2,478.4 267.1,479.0 269.0,479.7 270.9,480.3 272.8,480.9 274.7,481.5 276.6,482.1 278.5,482.7 280.5,483.3 282.4,483.8 284.3,484.4 286.2,485.0 288.2,485.6 290.1,486.2 292.0,486.8 293.9,487.3 295.9,487.9 297.8,488.5 299.7,489.1 301.6,489.7 303.6,490.3 305.5,490.9 307.4,491.5 309.3,492.1 311.2,492.7 313.1,493.3 315.0,494.0 316.9,494.6 318.8,495.3 320.7,495.9 322.6,496.6 324.5,497.3 326.3,498.0 328.2,498.7 330.1,499.4 331.9,500.1 333.8,500.8 335.6,501.5 337.5,502.3 339.3,503.0 341.2,503.8 343.0,504.5 344.9,505.2 346.7,506.0 348.6,506.8 350.4,507.5 352.2,508.3 354.1,509.1 355.9,509.8 357.7,510.6 359.6,511.4 361.4,512.2 363.2,512.9 365.0,513.7 366.9,514.5 368.7,515.3 370.5,516.0 372.4,516.8 374.2,517.6 376.0,518.4 377.9,519.1 379.7,519.9 381.5,520.7 383.4,521.4 385.2,522.2 387.0,523.0 388.9,523.7 390.7,524.5 392.6,525.2 394.4,526.0 396.3,526.7 398.1,527.4 400.0,528.1 401.9,528.9 403.7,529.6 405.6,530.3 407.5,531.0 409.4,531.6 411.2,532.3 413.1,533.0 415.0,533.6 416.9,534.3 418.8,534.9 420.7,535.6 422.7,536.2 424.6,536.8 426.5,537.4 428.4,538.0 430.4,538.5 432.3,539.1" fill="none" stroke="#bc16c0" stroke-width="3.1" stroke-linejoin="round" stroke-linecap="round"/>
<polyline points="130.3,505.1 130.1,502.9 130.1,500.7 130.3,498.6 130.6,496.6 131.0,494.7 131.6,492.8 132.3,491.0 133.1,489.2 134.0,487.5 135.0,485.8 136.0,484.2 137.2,482.6 138.4,481.1 139.7,479.6 141.1,478.2 142.5,476.7 143.9,475.4 145.4,474.0 146.9,472.7 148.4,471.3 150.0,470.1 151.5,468.8 153.1,467.5 154.7,466.3 156.2,465.1 157.8,463.8 159.4,462.6 161.0,461.5 162.6,460.3 164.2,459.1 165.9,458.0 167.5,456.8 169.1,455.7 170.7,454.5 172.4,453.4 174.0,452.2 175.6,451.1 177.3,450.0 178.9,448.9 180.6,447.7 182.2,446.6 183.8,445.4 185.5,444.3 187.1,443.1 188.7,442.0 190.4,440.8 192.0,439.7 193.6,438.5 195.3,437.4 196.9,436.3 198.6,435.1 200.2,434.0 201.9,432.9 203.5,431.7 205.2,430.6 206.9,429.5 208.5,428.5 210.2,427.4 211.9,426.3 213.6,425.3 215.3,424.3 217.1,423.3 218.8,422.3 220.5,421.3 222.3,420.3 224.0,419.4 225.7,418.4 227.5,417.4 229.2,416.4 230.9,415.4 232.5,414.3 234.1,413.3 235.7,412.1 237.3,411.0 238.8,409.7 240.3,408.4 241.7,407.1 243.0,405.7 244.4,404.3 245.7,402.8 247.0,401.3 248.2,399.8 249.5,398.2 250.7,396.7 252.0,395.1 253.3,393.6 254.6,392.1 255.9,390.6 257.2,389.1 258.6,387.6 259.9,386.2 261.3,384.7 262.6,383.2 263.9,381.7 265.2,380.2 266.4,378.7 267.6,377.1 268.7,375.4 269.8,373.8 270.9,372.1 271.9,370.4 272.9,368.7 274.0,367.0 275.0,365.3 276.1,363.6 277.2,361.9 278.2,360.3 279.3,358.6 280.4,356.9 281.5,355.2 282.5,353.6 283.6,351.9 284.7,350.2 285.8,348.6 286.9,346.9 288.0,345.3 289.2,343.6 290.3,342.0 291.4,340.3 292.5,338.7 293.6,337.0 294.7,335.4 295.8,333.7 297.0,332.1 298.1,330.4 299.2,328.8 300.3,327.2 301.4,325.5 302.5,323.9 303.7,322.2 304.8,320.6 305.9,318.9 307.0,317.3 308.1,315.6 309.2,313.9 310.3,312.3 311.4,310.6 312.5,309.0 313.6,307.3 314.7,305.6 315.8,304.0 316.9,302.3 317.9,300.6 319.0,298.9 320.1,297.3 321.2,295.6 322.2,293.9 323.3,292.2 324.3,290.5 325.4,288.8 326.4,287.1 327.5,285.4 328.5,283.7 329.6,282.0 330.6,280.3 331.6,278.6 332.7,276.9 333.7,275.2 334.7,273.5 335.7,271.8 336.7,270.0 337.7,268.3 338.7,266.6 339.7,264.9 340.7,263.1 341.7,261.4 342.7,259.7 343.6,257.9 344.6,256.2 345.6,254.4 346.5,252.7 347.5,250.9 348.4,249.2 349.3,247.4 350.3,245.7 351.2,243.9 352.1,242.1 353.0,240.4 354.0,238.6 354.9,236.8 355.8,235.1 356.6,233.3 357.5,231.5 358.4,229.7 359.3,227.9 360.2,226.1 361.0,224.3 361.9,222.5 362.7,220.7 363.6,218.9 364.4,217.1 365.3,215.3 366.1,213.5 366.9,211.7 367.7,209.9 368.6,208.1 369.4,206.3 370.2,204.5 371.0,202.6 371.8,200.8 372.6,199.0 373.4,197.2 374.2,195.3 374.9,193.5 375.7,191.7 376.5,189.8 377.3,188.0 378.0,186.1 378.8,184.3 379.5,182.5 380.3,180.6 381.0,178.8 381.8,176.9 382.5,175.1 383.3,173.2 384.0,171.4 384.8,169.5 385.5,167.6 386.2,165.8 386.9,163.9 387.7,162.1 388.4,160.2 389.1,158.4 389.8,156.5 390.5,154.6 391.2,152.8 391.9,150.9 392.6,149.0 393.3,147.2 394.0,145.3 394.7,143.4 395.4,141.5 396.1,139.7 396.8,137.8 397.5,135.9 398.2,134.1 398.9,132.2 399.6,130.3 400.3,128.4 400.9,126.5 401.6,124.7 402.3,122.8 403.0,120.9 403.7,119.0 404.3,117.2 405.0,115.3 405.7,113.4 406.4,111.5 407.0,109.6 407.7,107.8 408.4,105.9 409.1,104.0 409.7,102.1 410.4,100.2 411.1,98.4 411.7,96.5 412.4,94.6 413.1,92.7 413.7,90.9 414.4,89.0 415.1,87.1 415.8,85.2 416.4,83.3 417.1,81.5 417.8,79.6 418.4,77.7 419.1,75.8 419.8,74.0 420.5,72.1 421.1,70.2 421.8,68.4 422.5,66.5 423.2,64.6 423.9,62.7 424.5,60.9 425.2,59.0 425.9,57.1 426.6,55.3 427.3,53.4 428.0,51.5 428.7,49.7 429.4,47.8 430.1,46.0" fill="none" stroke="#bc16c0" stroke-width="3.1" stroke-linejoin="round" stroke-linecap="round"/>
<polyline points="131.5,251.7 131.8,253.6 132.2,255.5 132.5,257.4 132.8,259.4 133.1,261.3 133.4,263.2 133.7,265.2 134.0,267.2 134.2,269.1 134.5,271.1 134.7,273.1 134.9,275.0 135.1,277.0 135.3,279.0 135.5,281.0 135.7,283.0 135.9,285.0 136.1,287.0 136.3,289.0 136.5,291.0 136.7,293.0 136.9,295.0 137.0,297.1 137.2,299.1 137.4,301.1 137.6,303.1 137.8,305.1 138.0,307.1 138.2,309.1 138.4,311.1 138.7,313.1 138.9,315.1 139.1,317.1 139.4,319.1 139.7,321.1 139.9,323.1 140.2,325.1 140.5,327.1 140.9,329.0 141.2,331.0 141.6,333.0 141.9,334.9 142.3,336.9 142.7,338.8 143.2,340.7 143.6,342.6 144.1,344.6 144.6,346.5 145.1,348.4 145.7,350.3 146.3,352.1 146.9,354.0 147.5,355.9 148.1,357.7 148.8,359.5 149.6,361.4 150.3,363.2 151.1,365.0 151.9,366.7 152.7,368.5 153.6,370.3 154.5,372.0 155.4,373.8 156.3,375.5 157.3,377.2 158.3,379.0 159.3,380.7 160.3,382.4 161.3,384.1 162.4,385.8 163.4,387.5 164.5,389.1 165.6,390.8 166.7,392.5 167.8,394.2 168.9,395.8 170.0,397.5 171.2,399.2 172.3,400.8 173.4,402.5 174.6,404.1 175.7,405.8 176.9,407.4 178.0,409.1 179.2,410.7 180.4,412.3 181.5,413.9 182.7,415.5 183.9,417.1 185.2,418.7 186.4,420.3 187.6,421.9 188.9,423.4 190.1,425.0 191.4,426.5 192.7,428.0 194.0,429.5 195.3,431.0 196.6,432.5 198.0,433.9 199.3,435.4 200.7,436.8 202.1,438.2 203.5,439.5 205.0,440.9 206.4,442.2 207.9,443.5 209.4,444.8 210.9,446.1 212.4,447.3 214.0,448.5 215.5,449.7 217.1,450.9 218.7,452.0 220.3,453.2 222.0,454.3 223.6,455.4 225.3,456.5 226.9,457.5 228.6,458.5 230.3,459.6 232.0,460.6 233.8,461.5 235.5,462.5 237.3,463.4 239.0,464.3 240.8,465.3 242.6,466.1 244.4,467.0 246.2,467.9 248.0,468.7 249.8,469.5 251.6,470.3 253.5,471.1 255.3,471.9 257.2,472.6 259.0,473.4 260.9,474.1 262.8,474.8 264.6,475.5 266.5,476.2 268.4,476.8 270.3,477.5 272.2,478.1 274.1,478.8 276.0,479.4 277.9,480.0 279.8,480.6 281.7,481.3 283.6,481.9 285.5,482.5 287.4,483.1 289.3,483.7 291.2,484.3 293.1,484.9 295.0,485.5 296.9,486.1 298.8,486.7 300.7,487.3 302.6,488.0 304.5,488.6 306.4,489.2 308.3,489.9 310.1,490.5 312.0,491.2 313.9,491.8 315.8,492.5 317.7,493.1 319.6,493.8 321.4,494.4 323.3,495.0 325.2,495.7 327.1,496.3 329.0,497.0 330.9,497.6 332.8,498.2 334.6,498.8 336.5,499.5 338.4,500.1 340.3,500.7 342.2,501.3 344.1,501.9 346.0,502.6 347.9,503.2 349.8,503.8 351.7,504.4 353.6,505.0 355.5,505.6 357.4,506.3 359.3,506.9 361.1,507.5 363.0,508.1 364.9,508.8 366.8,509.4 368.7,510.0 370.6,510.6 372.5,511.3 374.4,511.9 376.3,512.5 378.1,513.2 380.0,513.8 381.9,514.5 383.8,515.1 385.7,515.8 387.5,516.5 389.4,517.1 391.3,517.8 393.2,518.5 395.0,519.1 396.9,519.8 398.8,520.5 400.6,521.2 402.5,521.9 404.4,522.5 406.2,523.2 408.1,523.9 410.0,524.6 411.8,525.3 413.7,526.0 415.6,526.7 417.4,527.4 419.3,528.1 421.1,528.8 423.0,529.5 424.9,530.2 426.7,530.9 428.6,531.6 430.5,532.2 432.4,532.9 434.3,533.5 436.1,534.2 438.0,534.8 439.9,535.4 441.8,536.0 443.7,536.6 445.6,537.2 447.6,537.7 449.5,538.3 451.4,538.8 453.4,539.3" fill="none" stroke="#100a52" stroke-width="3.1" stroke-linejoin="round" stroke-linecap="round"/>
<polyline points="130.3,499.2 130.3,497.1 130.4,495.0 130.6,492.9 130.9,490.8 131.3,488.8 131.8,486.8 132.4,484.9 133.1,483.0 133.8,481.1 134.7,479.3 135.6,477.6 136.7,475.9 137.8,474.3 139.0,472.8 140.2,471.3 141.6,469.9 143.0,468.6 144.5,467.4 146.1,466.2 147.6,465.1 149.3,464.0 151.0,462.9 152.6,461.9 154.4,460.9 156.1,459.9 157.8,458.8 159.5,457.8 161.2,456.8 162.9,455.8 164.7,454.7 166.4,453.7 168.1,452.6 169.8,451.6 171.4,450.5 173.1,449.5 174.8,448.4 176.5,447.3 178.2,446.2 179.8,445.1 181.5,444.0 183.2,442.9 184.8,441.8 186.5,440.7 188.1,439.5 189.7,438.4 191.4,437.3 193.0,436.1 194.6,434.9 196.2,433.8 197.8,432.6 199.4,431.4 201.0,430.2 202.6,429.0 204.2,427.8 205.8,426.6 207.4,425.3 208.9,424.1 210.5,422.9 212.0,421.6 213.6,420.3 215.1,419.1 216.6,417.8 218.1,416.5 219.6,415.2 221.1,413.9 222.6,412.5 224.1,411.2 225.6,409.9 227.0,408.5 228.5,407.2 229.9,405.8 231.3,404.4 232.8,403.0 234.2,401.6 235.6,400.2 236.9,398.8 238.3,397.3 239.7,395.9 241.0,394.4 242.4,392.9 243.7,391.5 245.0,390.0 246.3,388.5 247.5,386.9 248.8,385.4 250.1,383.9 251.3,382.3 252.5,380.8 253.8,379.2 255.0,377.6 256.2,376.0 257.4,374.4 258.5,372.8 259.7,371.2 260.9,369.6 262.1,368.0 263.2,366.4 264.4,364.8 265.5,363.2 266.7,361.5 267.8,359.9 269.0,358.3 270.1,356.6 271.3,355.0 272.4,353.4 273.6,351.7 274.7,350.1 275.9,348.5 277.0,346.9 278.2,345.2 279.4,343.6 280.5,342.0 281.7,340.4 282.9,338.8 284.1,337.2 285.3,335.6 286.5,334.0 287.7,332.5 288.9,330.9 290.2,329.3 291.4,327.7 292.6,326.2 293.9,324.6 295.1,323.1 296.3,321.5 297.6,320.0 298.8,318.4 300.1,316.9 301.3,315.3 302.6,313.8 303.8,312.2 305.1,310.7 306.4,309.1 307.6,307.6 308.9,306.0 310.1,304.5 311.3,302.9 312.6,301.4 313.8,299.8 315.1,298.3 316.3,296.7 317.5,295.2 318.8,293.6 320.0,292.0 321.2,290.4 322.4,288.9 323.6,287.3 324.8,285.7 326.0,284.1 327.2,282.5 328.3,280.9 329.5,279.2 330.7,277.6 331.8,276.0 333.0,274.4 334.1,272.7 335.2,271.1 336.4,269.5 337.5,267.8 338.6,266.2 339.7,264.5 340.8,262.8 341.9,261.2 343.0,259.5 344.1,257.8 345.2,256.2 346.2,254.5 347.3,252.8 348.4,251.1 349.4,249.4 350.5,247.7 351.6,246.0 352.6,244.3 353.6,242.6 354.7,240.9 355.7,239.2 356.7,237.5 357.8,235.8 358.8,234.1 359.8,232.3 360.8,230.6 361.8,228.9 362.8,227.2 363.8,225.4 364.8,223.7 365.8,222.0 366.8,220.2 367.8,218.5 368.8,216.8 369.7,215.0 370.7,213.3 371.7,211.6 372.6,209.8 373.6,208.1 374.6,206.3 375.5,204.6 376.5,202.8 377.4,201.1 378.4,199.3 379.3,197.6 380.3,195.8 381.2,194.1 382.1,192.3 383.1,190.5 384.0,188.8 384.9,187.0 385.8,185.2 386.8,183.5 387.7,181.7 388.6,179.9 389.5,178.2 390.4,176.4 391.3,174.6 392.2,172.9 393.1,171.1 394.0,169.3 394.9,167.5 395.8,165.8 396.7,164.0 397.6,162.2 398.5,160.4 399.4,158.6 400.2,156.8 401.1,155.1 402.0,153.3 402.9,151.5 403.7,149.7 404.6,147.9 405.5,146.1 406.3,144.3 407.2,142.5 408.1,140.7 408.9,138.9 409.8,137.1 410.6,135.3 411.5,133.5 412.3,131.7 413.2,129.9 414.0,128.1 414.8,126.3 415.7,124.5 416.5,122.7 417.3,120.9 418.2,119.1 419.0,117.3 419.8,115.5 420.7,113.7 421.5,111.8 422.3,110.0 423.1,108.2 423.9,106.4 424.8,104.6 425.6,102.8 426.4,100.9 427.2,99.1 428.0,97.3 428.8,95.5 429.6,93.7 430.4,91.8 431.2,90.0 432.0,88.2 432.8,86.3 433.6,84.5 434.4,82.7 435.2,80.9 436.0,79.0 436.8,77.2 437.6,75.4 438.4,73.5 439.2,71.7 439.9,69.8 440.7,68.0 441.5,66.2 442.3,64.3 443.1,62.5 443.9,60.7 444.6,58.8 445.4,57.0 446.2,55.1 447.0,53.3 447.7,51.4 448.5,49.6 449.3,47.7 450.0,45.9" fill="none" stroke="#100a52" stroke-width="3.1" stroke-linejoin="round" stroke-linecap="round"/>
<rect x="129.9" y="5.4" width="839.6" height="574.3" fill="none" stroke="#000" stroke-width="3.4" stroke-linejoin="round"/>
<line x1="129.9" y1="538.7" x2="142.5" y2="538.7" stroke="#000" stroke-width="3.0"/>
<line x1="129.9" y1="497.7" x2="136.7" y2="497.7" stroke="#000" stroke-width="3.0"/>
<line x1="129.9" y1="456.6" x2="142.5" y2="456.6" stroke="#000" stroke-width="3.0"/>
<line x1="129.9" y1="415.6" x2="136.7" y2="415.6" stroke="#000" stroke-width="3.0"/>
<line x1="129.9" y1="374.5" x2="142.5" y2="374.5" stroke="#000" stroke-width="3.0"/>
<line x1="129.9" y1="333.5" x2="136.7" y2="333.5" stroke="#000" stroke-width="3.0"/>
<line x1="129.9" y1="292.4" x2="142.5" y2="292.4" stroke="#000" stroke-width="3.0"/>
<line x1="129.9" y1="251.4" x2="136.7" y2="251.4" stroke="#000" stroke-width="3.0"/>
<line x1="129.9" y1="210.4" x2="142.5" y2="210.4" stroke="#000" stroke-width="3.0"/>
<line x1="129.9" y1="169.3" x2="136.7" y2="169.3" stroke="#000" stroke-width="3.0"/>
<line x1="129.9" y1="128.3" x2="142.5" y2="128.3" stroke="#000" stroke-width="3.0"/>
<line x1="129.9" y1="87.2" x2="136.7" y2="87.2" stroke="#000" stroke-width="3.0"/>
<line x1="129.9" y1="46.2" x2="142.5" y2="46.2" stroke="#000" stroke-width="3.0"/>
<line x1="129.8" y1="579.7" x2="129.8" y2="567.7" stroke="#000" stroke-width="3.0"/>
<line x1="197.0" y1="579.7" x2="197.0" y2="573.7" stroke="#000" stroke-width="3.0"/>
<line x1="264.1" y1="579.7" x2="264.1" y2="567.7" stroke="#000" stroke-width="3.0"/>
<line x1="331.2" y1="579.7" x2="331.2" y2="573.7" stroke="#000" stroke-width="3.0"/>
<line x1="398.4" y1="579.7" x2="398.4" y2="567.7" stroke="#000" stroke-width="3.0"/>
<line x1="465.6" y1="579.7" x2="465.6" y2="573.7" stroke="#000" stroke-width="3.0"/>
<line x1="532.7" y1="579.7" x2="532.7" y2="567.7" stroke="#000" stroke-width="3.0"/>
<line x1="599.9" y1="579.7" x2="599.9" y2="573.7" stroke="#000" stroke-width="3.0"/>
<line x1="667.0" y1="579.7" x2="667.0" y2="567.7" stroke="#000" stroke-width="3.0"/>
<line x1="734.2" y1="579.7" x2="734.2" y2="573.7" stroke="#000" stroke-width="3.0"/>
<line x1="801.3" y1="579.7" x2="801.3" y2="567.7" stroke="#000" stroke-width="3.0"/>
<line x1="868.5" y1="579.7" x2="868.5" y2="573.7" stroke="#000" stroke-width="3.0"/>
<line x1="935.6" y1="579.7" x2="935.6" y2="567.7" stroke="#000" stroke-width="3.0"/>
<text x="115" y="548.2" font-family="Liberation Serif" stroke="#000" stroke-width="0.35" font-size="36" text-anchor="end" textLength="45.5" lengthAdjust="spacingAndGlyphs">0.0</text>
<text x="115" y="466.1" font-family="Liberation Serif" stroke="#000" stroke-width="0.35" font-size="36" text-anchor="end" textLength="45.5" lengthAdjust="spacingAndGlyphs">0.5</text>
<text x="115" y="384.0" font-family="Liberation Serif" stroke="#000" stroke-width="0.35" font-size="36" text-anchor="end" textLength="45.5" lengthAdjust="spacingAndGlyphs">1.0</text>
<text x="115" y="301.9" font-family="Liberation Serif" stroke="#000" stroke-width="0.35" font-size="36" text-anchor="end" textLength="45.5" lengthAdjust="spacingAndGlyphs">1.5</text>
<text x="115" y="219.9" font-family="Liberation Serif" stroke="#000" stroke-width="0.35" font-size="36" text-anchor="end" textLength="45.5" lengthAdjust="spacingAndGlyphs">2.0</text>
<text x="115" y="137.8" font-family="Liberation Serif" stroke="#000" stroke-width="0.35" font-size="36" text-anchor="end" textLength="45.5" lengthAdjust="spacingAndGlyphs">2.5</text>
<text x="115" y="55.7" font-family="Liberation Serif" stroke="#000" stroke-width="0.35" font-size="36" text-anchor="end" textLength="45.5" lengthAdjust="spacingAndGlyphs">3.0</text>
<text x="128.3" y="620.2" font-family="Liberation Serif" stroke="#000" stroke-width="0.35" font-size="36" text-anchor="middle" textLength="16" lengthAdjust="spacingAndGlyphs">0</text>
<text x="263.6" y="620.2" font-family="Liberation Serif" stroke="#000" stroke-width="0.35" font-size="36" text-anchor="middle" textLength="55" lengthAdjust="spacingAndGlyphs">400</text>
<text x="397.9" y="620.2" font-family="Liberation Serif" stroke="#000" stroke-width="0.35" font-size="36" text-anchor="middle" textLength="55" lengthAdjust="spacingAndGlyphs">800</text>
<text x="533.3" y="620.2" font-family="Liberation Serif" stroke="#000" stroke-width="0.35" font-size="36" text-anchor="middle" textLength="74.5" lengthAdjust="spacingAndGlyphs">1200</text>
<text x="667.6" y="620.2" font-family="Liberation Serif" stroke="#000" stroke-width="0.35" font-size="36" text-anchor="middle" textLength="74.5" lengthAdjust="spacingAndGlyphs">1600</text>
<text x="801.9" y="620.2" font-family="Liberation Serif" stroke="#000" stroke-width="0.35" font-size="36" text-anchor="middle" textLength="74.5" lengthAdjust="spacingAndGlyphs">2000</text>
<text x="936.2" y="620.2" font-family="Liberation Serif" stroke="#000" stroke-width="0.35" font-size="36" text-anchor="middle" textLength="74.5" lengthAdjust="spacingAndGlyphs">2400</text>
<text x="338.2" y="683.6" font-family="Liberation Serif" stroke="#000" stroke-width="0.35" font-size="37.5" textLength="405.5" lengthAdjust="spacingAndGlyphs">Specific capacity / mAh g</text>
<text x="742.5" y="663.5" font-family="Liberation Serif" stroke="#000" stroke-width="0.35" font-size="21.5" textLength="17" lengthAdjust="spacingAndGlyphs">-1</text>
<text transform="translate(31.7,374) rotate(-90)" x="0" y="0" font-family="Liberation Serif" stroke="#000" stroke-width="0.35" font-size="39" textLength="168" lengthAdjust="spacingAndGlyphs">Voltage / V</text>
<text x="344.2" y="36.9" font-family="Liberation Serif" stroke="#000" stroke-width="0.35" font-size="35" textLength="274.5" lengthAdjust="spacingAndGlyphs">100,200,10,300,2,1</text>
<line x1="312" y1="86.1" x2="609" y2="86.1" stroke="#222" stroke-width="1.8" stroke-linecap="round"/>
<path d="M607.8,82.2 L624,86.1 L607.8,90.1 Z" fill="#000" stroke="#000" stroke-width="1" stroke-linejoin="round"/>
<line x1="662" y1="51.8" x2="742.5" y2="51.8" stroke="#000000" stroke-width="3.0" stroke-linecap="round"/>
<text x="751" y="62.6" font-family="Liberation Serif" stroke="#000" stroke-width="0.35" font-size="33" textLength="127.4" lengthAdjust="spacingAndGlyphs">1st cycle</text>
<line x1="662" y1="93.0" x2="742.5" y2="93.0" stroke="#bb1410" stroke-width="3.0" stroke-linecap="round"/>
<text x="751" y="103.8" font-family="Liberation Serif" stroke="#000" stroke-width="0.35" font-size="33" textLength="139.5" lengthAdjust="spacingAndGlyphs">2nd cycle</text>
<line x1="662" y1="134.2" x2="742.5" y2="134.2" stroke="#2ecf2a" stroke-width="3.0" stroke-linecap="round"/>
<text x="751" y="145.0" font-family="Liberation Serif" stroke="#000" stroke-width="0.35" font-size="33" textLength="149.5" lengthAdjust="spacingAndGlyphs">10th cycle</text>
<line x1="662" y1="175.6" x2="742.5" y2="175.6" stroke="#0e0eae" stroke-width="3.0" stroke-linecap="round"/>
<text x="751" y="186.4" font-family="Liberation Serif" stroke="#000" stroke-width="0.35" font-size="33" textLength="167.2" lengthAdjust="spacingAndGlyphs">100th cycle</text>
<line x1="662" y1="216.7" x2="742.5" y2="216.7" stroke="#bc16c0" stroke-width="3.0" stroke-linecap="round"/>
<text x="751" y="227.5" font-family="Liberation Serif" stroke="#000" stroke-width="0.35" font-size="33" textLength="167.2" lengthAdjust="spacingAndGlyphs">200th cycle</text>
<line x1="662" y1="258.0" x2="742.5" y2="258.0" stroke="#100a52" stroke-width="3.0" stroke-linecap="round"/>
<text x="751" y="268.8" font-family="Liberation Serif" stroke="#000" stroke-width="0.35" font-size="33" textLength="167.2" lengthAdjust="spacingAndGlyphs">300th cycle</text>
</g>
</svg>
</body></html>
